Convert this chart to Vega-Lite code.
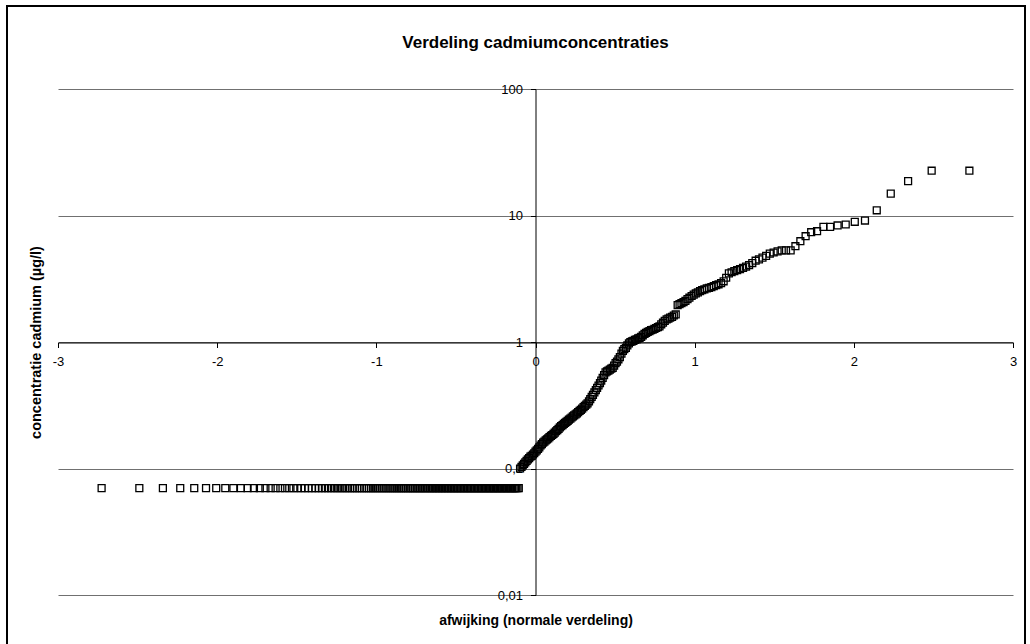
{
  "$schema": "https://vega.github.io/schema/vega-lite/v6.json",
  "width": 955,
  "height": 506,
  "autosize": {"type": "none"},
  "padding": {"left": 58, "top": 89, "right": 17, "bottom": 49},
  "background": "white",
  "config": {
    "view": {"stroke": null},
    "font": "Liberation Sans, Arial, sans-serif",
    "axis": {"labelFont": "Liberation Sans, Arial, sans-serif", "titleFont": "Liberation Sans, Arial, sans-serif"}
  },
  "title": {
    "text": "Verdeling cadmiumconcentraties",
    "fontSize": 17,
    "fontWeight": "bold",
    "color": "black",
    "anchor": "middle",
    "offset": -47
  },
  "layer": [
    {
      "data": {
        "values": [
          {"z": -2.726, "c": 0.07}, {"z": -2.489, "c": 0.07}, {"z": -2.341, "c": 0.07}, {"z": -2.232, "c": 0.07}, {"z": -2.144, "c": 0.07},
          {"z": -2.070, "c": 0.07}, {"z": -2.006, "c": 0.07}, {"z": -1.949, "c": 0.07}, {"z": -1.898, "c": 0.07}, {"z": -1.851, "c": 0.07},
          {"z": -1.809, "c": 0.07}, {"z": -1.769, "c": 0.07}, {"z": -1.732, "c": 0.07}, {"z": -1.697, "c": 0.07}, {"z": -1.664, "c": 0.07},
          {"z": -1.633, "c": 0.07}, {"z": -1.603, "c": 0.07}, {"z": -1.574, "c": 0.07}, {"z": -1.547, "c": 0.07}, {"z": -1.521, "c": 0.07},
          {"z": -1.496, "c": 0.07}, {"z": -1.472, "c": 0.07}, {"z": -1.449, "c": 0.07}, {"z": -1.426, "c": 0.07}, {"z": -1.404, "c": 0.07},
          {"z": -1.383, "c": 0.07}, {"z": -1.362, "c": 0.07}, {"z": -1.342, "c": 0.07}, {"z": -1.323, "c": 0.07}, {"z": -1.304, "c": 0.07},
          {"z": -1.285, "c": 0.07}, {"z": -1.267, "c": 0.07}, {"z": -1.249, "c": 0.07}, {"z": -1.232, "c": 0.07}, {"z": -1.215, "c": 0.07},
          {"z": -1.198, "c": 0.07}, {"z": -1.182, "c": 0.07}, {"z": -1.166, "c": 0.07}, {"z": -1.150, "c": 0.07}, {"z": -1.135, "c": 0.07},
          {"z": -1.120, "c": 0.07}, {"z": -1.105, "c": 0.07}, {"z": -1.090, "c": 0.07}, {"z": -1.076, "c": 0.07}, {"z": -1.061, "c": 0.07},
          {"z": -1.047, "c": 0.07}, {"z": -1.034, "c": 0.07}, {"z": -1.020, "c": 0.07}, {"z": -1.007, "c": 0.07}, {"z": -0.994, "c": 0.07},
          {"z": -0.981, "c": 0.07}, {"z": -0.967, "c": 0.07}, {"z": -0.955, "c": 0.07}, {"z": -0.942, "c": 0.07}, {"z": -0.930, "c": 0.07},
          {"z": -0.917, "c": 0.07}, {"z": -0.905, "c": 0.07}, {"z": -0.893, "c": 0.07}, {"z": -0.881, "c": 0.07}, {"z": -0.869, "c": 0.07},
          {"z": -0.858, "c": 0.07}, {"z": -0.846, "c": 0.07}, {"z": -0.835, "c": 0.07}, {"z": -0.824, "c": 0.07}, {"z": -0.812, "c": 0.07},
          {"z": -0.801, "c": 0.07}, {"z": -0.790, "c": 0.07}, {"z": -0.779, "c": 0.07}, {"z": -0.769, "c": 0.07}, {"z": -0.758, "c": 0.07},
          {"z": -0.747, "c": 0.07}, {"z": -0.736, "c": 0.07}, {"z": -0.726, "c": 0.07}, {"z": -0.716, "c": 0.07}, {"z": -0.705, "c": 0.07},
          {"z": -0.695, "c": 0.07}, {"z": -0.685, "c": 0.07}, {"z": -0.674, "c": 0.07}, {"z": -0.664, "c": 0.07}, {"z": -0.654, "c": 0.07},
          {"z": -0.645, "c": 0.07}, {"z": -0.635, "c": 0.07}, {"z": -0.625, "c": 0.07}, {"z": -0.615, "c": 0.07}, {"z": -0.606, "c": 0.07},
          {"z": -0.596, "c": 0.07}, {"z": -0.587, "c": 0.07}, {"z": -0.577, "c": 0.07}, {"z": -0.568, "c": 0.07}, {"z": -0.558, "c": 0.07},
          {"z": -0.549, "c": 0.07}, {"z": -0.540, "c": 0.07}, {"z": -0.530, "c": 0.07}, {"z": -0.521, "c": 0.07}, {"z": -0.512, "c": 0.07},
          {"z": -0.503, "c": 0.07}, {"z": -0.494, "c": 0.07}, {"z": -0.485, "c": 0.07}, {"z": -0.476, "c": 0.07}, {"z": -0.467, "c": 0.07},
          {"z": -0.458, "c": 0.07}, {"z": -0.449, "c": 0.07}, {"z": -0.440, "c": 0.07}, {"z": -0.431, "c": 0.07}, {"z": -0.422, "c": 0.07},
          {"z": -0.413, "c": 0.07}, {"z": -0.405, "c": 0.07}, {"z": -0.396, "c": 0.07}, {"z": -0.387, "c": 0.07}, {"z": -0.379, "c": 0.07},
          {"z": -0.370, "c": 0.07}, {"z": -0.361, "c": 0.07}, {"z": -0.353, "c": 0.07}, {"z": -0.344, "c": 0.07}, {"z": -0.336, "c": 0.07},
          {"z": -0.327, "c": 0.07}, {"z": -0.319, "c": 0.07}, {"z": -0.310, "c": 0.07}, {"z": -0.302, "c": 0.07}, {"z": -0.293, "c": 0.07},
          {"z": -0.285, "c": 0.07}, {"z": -0.277, "c": 0.07}, {"z": -0.268, "c": 0.07}, {"z": -0.260, "c": 0.07}, {"z": -0.252, "c": 0.07},
          {"z": -0.243, "c": 0.07}, {"z": -0.235, "c": 0.07}, {"z": -0.227, "c": 0.07}, {"z": -0.219, "c": 0.07}, {"z": -0.210, "c": 0.07},
          {"z": -0.202, "c": 0.07}, {"z": -0.194, "c": 0.07}, {"z": -0.186, "c": 0.07}, {"z": -0.178, "c": 0.07}, {"z": -0.170, "c": 0.07},
          {"z": -0.161, "c": 0.07}, {"z": -0.153, "c": 0.07}, {"z": -0.145, "c": 0.07}, {"z": -0.137, "c": 0.07}, {"z": -0.129, "c": 0.07},
          {"z": -0.121, "c": 0.07}, {"z": -0.113, "c": 0.07}, {"z": -0.105, "c": 0.07},
          {"z": -0.097, "c": 0.100}, {"z": -0.088, "c": 0.103}, {"z": -0.080, "c": 0.106}, {"z": -0.072, "c": 0.109}, {"z": -0.064, "c": 0.112},
          {"z": -0.056, "c": 0.115}, {"z": -0.048, "c": 0.118}, {"z": -0.040, "c": 0.121}, {"z": -0.032, "c": 0.124}, {"z": -0.024, "c": 0.126},
          {"z": -0.016, "c": 0.129}, {"z": -0.008, "c": 0.132}, {"z": 0.000, "c": 0.136}, {"z": 0.008, "c": 0.139}, {"z": 0.016, "c": 0.143},
          {"z": 0.024, "c": 0.147}, {"z": 0.032, "c": 0.152}, {"z": 0.040, "c": 0.156}, {"z": 0.048, "c": 0.160}, {"z": 0.056, "c": 0.163},
          {"z": 0.064, "c": 0.167}, {"z": 0.072, "c": 0.170}, {"z": 0.080, "c": 0.173}, {"z": 0.088, "c": 0.177}, {"z": 0.097, "c": 0.181},
          {"z": 0.105, "c": 0.184}, {"z": 0.113, "c": 0.188}, {"z": 0.121, "c": 0.192}, {"z": 0.129, "c": 0.197}, {"z": 0.137, "c": 0.201},
          {"z": 0.145, "c": 0.206}, {"z": 0.153, "c": 0.211}, {"z": 0.161, "c": 0.216}, {"z": 0.170, "c": 0.220}, {"z": 0.178, "c": 0.225},
          {"z": 0.186, "c": 0.229}, {"z": 0.194, "c": 0.234}, {"z": 0.202, "c": 0.238}, {"z": 0.210, "c": 0.243}, {"z": 0.219, "c": 0.248},
          {"z": 0.227, "c": 0.253}, {"z": 0.235, "c": 0.258}, {"z": 0.243, "c": 0.263}, {"z": 0.252, "c": 0.268}, {"z": 0.260, "c": 0.273},
          {"z": 0.268, "c": 0.279}, {"z": 0.277, "c": 0.285}, {"z": 0.285, "c": 0.291}, {"z": 0.293, "c": 0.298}, {"z": 0.302, "c": 0.306},
          {"z": 0.310, "c": 0.313}, {"z": 0.319, "c": 0.320}, {"z": 0.327, "c": 0.327}, {"z": 0.336, "c": 0.340}, {"z": 0.344, "c": 0.353},
          {"z": 0.353, "c": 0.368}, {"z": 0.361, "c": 0.382}, {"z": 0.370, "c": 0.399}, {"z": 0.379, "c": 0.417}, {"z": 0.387, "c": 0.434},
          {"z": 0.396, "c": 0.453}, {"z": 0.405, "c": 0.474}, {"z": 0.413, "c": 0.495}, {"z": 0.422, "c": 0.520}, {"z": 0.431, "c": 0.547},
          {"z": 0.440, "c": 0.575}, {"z": 0.449, "c": 0.585}, {"z": 0.458, "c": 0.594}, {"z": 0.467, "c": 0.605}, {"z": 0.476, "c": 0.615},
          {"z": 0.485, "c": 0.625}, {"z": 0.494, "c": 0.650}, {"z": 0.503, "c": 0.680}, {"z": 0.512, "c": 0.700}, {"z": 0.521, "c": 0.730},
          {"z": 0.530, "c": 0.760}, {"z": 0.540, "c": 0.810}, {"z": 0.549, "c": 0.850}, {"z": 0.558, "c": 0.880}, {"z": 0.568, "c": 0.900},
          {"z": 0.577, "c": 0.940}, {"z": 0.587, "c": 0.975}, {"z": 0.596, "c": 1.00}, {"z": 0.606, "c": 1.01}, {"z": 0.615, "c": 1.02},
          {"z": 0.625, "c": 1.04}, {"z": 0.635, "c": 1.05}, {"z": 0.645, "c": 1.07}, {"z": 0.654, "c": 1.08}, {"z": 0.664, "c": 1.10},
          {"z": 0.674, "c": 1.13}, {"z": 0.685, "c": 1.16}, {"z": 0.695, "c": 1.18}, {"z": 0.705, "c": 1.20}, {"z": 0.716, "c": 1.22},
          {"z": 0.726, "c": 1.24}, {"z": 0.736, "c": 1.25}, {"z": 0.747, "c": 1.27}, {"z": 0.758, "c": 1.29}, {"z": 0.769, "c": 1.31},
          {"z": 0.779, "c": 1.33}, {"z": 0.790, "c": 1.38}, {"z": 0.801, "c": 1.42}, {"z": 0.812, "c": 1.47}, {"z": 0.824, "c": 1.51},
          {"z": 0.835, "c": 1.53}, {"z": 0.846, "c": 1.56}, {"z": 0.858, "c": 1.58}, {"z": 0.869, "c": 1.62}, {"z": 0.881, "c": 1.65},
          {"z": 0.893, "c": 1.96}, {"z": 0.905, "c": 1.99}, {"z": 0.917, "c": 2.03}, {"z": 0.930, "c": 2.07}, {"z": 0.942, "c": 2.11},
          {"z": 0.955, "c": 2.18}, {"z": 0.967, "c": 2.24}, {"z": 0.981, "c": 2.31}, {"z": 0.994, "c": 2.37}, {"z": 1.007, "c": 2.42},
          {"z": 1.020, "c": 2.47}, {"z": 1.034, "c": 2.52}, {"z": 1.047, "c": 2.57}, {"z": 1.061, "c": 2.61}, {"z": 1.076, "c": 2.65},
          {"z": 1.090, "c": 2.68}, {"z": 1.105, "c": 2.72}, {"z": 1.120, "c": 2.76}, {"z": 1.135, "c": 2.81}, {"z": 1.150, "c": 2.86},
          {"z": 1.166, "c": 2.92}, {"z": 1.182, "c": 3.02}, {"z": 1.198, "c": 3.22}, {"z": 1.215, "c": 3.49}, {"z": 1.232, "c": 3.56},
          {"z": 1.249, "c": 3.63}, {"z": 1.267, "c": 3.70}, {"z": 1.285, "c": 3.77}, {"z": 1.304, "c": 3.85}, {"z": 1.323, "c": 3.95},
          {"z": 1.342, "c": 4.06}, {"z": 1.362, "c": 4.21}, {"z": 1.383, "c": 4.39}, {"z": 1.404, "c": 4.50}, {"z": 1.426, "c": 4.65},
          {"z": 1.449, "c": 4.80}, {"z": 1.472, "c": 5.00}, {"z": 1.496, "c": 5.10}, {"z": 1.521, "c": 5.20}, {"z": 1.547, "c": 5.30},
          {"z": 1.574, "c": 5.30}, {"z": 1.603, "c": 5.30}, {"z": 1.633, "c": 5.72}, {"z": 1.664, "c": 6.26}, {"z": 1.697, "c": 6.86},
          {"z": 1.732, "c": 7.38}, {"z": 1.769, "c": 7.51}, {"z": 1.809, "c": 8.13}, {"z": 1.851, "c": 8.13}, {"z": 1.898, "c": 8.34},
          {"z": 1.949, "c": 8.49}, {"z": 2.006, "c": 8.92}, {"z": 2.070, "c": 9.12}, {"z": 2.144, "c": 11.0}, {"z": 2.232, "c": 14.9},
          {"z": 2.341, "c": 18.7}, {"z": 2.489, "c": 22.6}, {"z": 2.726, "c": 22.6}
        ]
      },
      "mark": {"type": "point", "shape": "square", "filled": false, "stroke": "black", "strokeWidth": 1.3, "size": 48, "opacity": 1},
      "encoding": {
        "x": {
          "field": "z",
          "type": "quantitative",
          "scale": {"domain": [-3, 3], "nice": false, "zero": false},
          "axis": {
            "orient": "bottom",
            "offset": -252.5,
            "values": [-3, -2, -1, 0, 1, 2, 3],
            "labelExpr": "'' + datum.value",
            "labelFlush": false,
            "labelOverlap": false,
            "labelBound": false,
            "grid": false,
            "domainColor": "black",
            "domainWidth": 1,
            "tickColor": "black",
            "tickSize": 5,
            "labelPadding": 8,
            "labelFontSize": 13,
            "labelColor": "black",
            "title": "afwijking (normale verdeling)",
            "titleFontSize": 14,
            "titleFontWeight": "bold",
            "titleColor": "black",
            "titleX": 477.5,
            "titleY": 277.5,
            "titleBaseline": "middle",
            "titleAlign": "center"
          }
        },
        "y": {
          "field": "c",
          "type": "quantitative",
          "scale": {"type": "log", "domain": [0.01, 100], "nice": false},
          "axis": {
            "orient": "left",
            "offset": -477.5,
            "values": [0.01, 0.1, 1, 10, 100],
            "labelExpr": "replace('' + datum.value, '.', ',')",
            "labelOverlap": false,
            "labelBound": false,
            "labelFlush": false,
            "grid": true,
            "gridColor": "#707070",
            "gridWidth": 1,
            "domainColor": "black",
            "domainWidth": 1,
            "tickColor": "black",
            "tickSize": 5,
            "labelPadding": 8,
            "labelFontSize": 13,
            "labelColor": "black",
            "title": "concentratie cadmium (µg/l)",
            "titleFontSize": 14.5,
            "titleFontWeight": "bold",
            "titleColor": "black",
            "titleAngle": -90,
            "titleX": -499.5,
            "titleY": 253,
            "titleBaseline": "middle",
            "titleAlign": "center"
          }
        }
      }
    },
    {
      "data": {"values": [{"frame": "chart area"}]},
      "mark": {"type": "rect", "filled": false, "fill": null, "stroke": "black", "strokeWidth": 2, "clip": false},
      "encoding": {
        "x": {"datum": -3.3204, "type": "quantitative"},
        "x2": {"datum": 3.0754},
        "y": {"datum": 453, "type": "quantitative"},
        "y2": {"datum": 0.003}
      }
    }
  ]
}
